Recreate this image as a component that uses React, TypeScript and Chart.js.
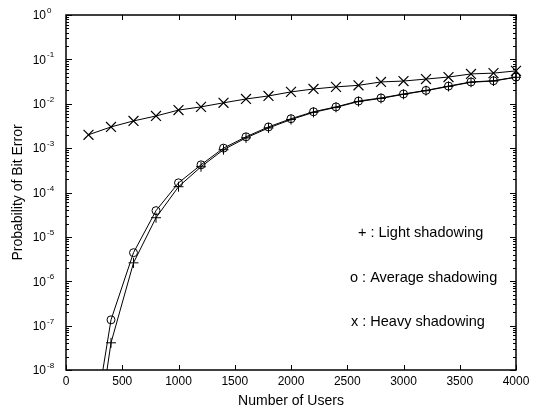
import React, { useEffect, useRef } from 'react';
import { Chart, registerables } from 'chart.js';

Chart.register(...registerables);

const users = [200, 400, 600, 800, 1000, 1200, 1400, 1600, 1800, 2000, 2200, 2400, 2600, 2800, 3000, 3200, 3400, 3600, 3800, 4000];
const lightShadowing = [1.5e-11, 4.1e-8, 2.6e-6, 2.7e-5, 1.35e-4, 3.8e-4, 9.2e-4, 1.7e-3, 2.85e-3, 4.4e-3, 6.4e-3, 8.3e-3, 1.12e-2, 1.32e-2, 1.63e-2, 1.97e-2, 2.45e-2, 3.05e-2, 3.25e-2, 3.95e-2];
const averageShadowing = [1e-10, 1.35e-7, 4.4e-6, 3.9e-5, 1.65e-4, 4.2e-4, 1.0e-3, 1.8e-3, 3.0e-3, 4.6e-3, 6.6e-3, 8.5e-3, 1.15e-2, 1.35e-2, 1.66e-2, 2.0e-2, 2.5e-2, 3.1e-2, 3.3e-2, 4.0e-2];
const heavyShadowing = [2.0e-3, 3.0e-3, 4.1e-3, 5.3e-3, 7.2e-3, 8.5e-3, 1.05e-2, 1.28e-2, 1.5e-2, 1.85e-2, 2.15e-2, 2.4e-2, 2.6e-2, 3.1e-2, 3.25e-2, 3.6e-2, 4.0e-2, 4.7e-2, 4.9e-2, 5.5e-2];
const xTicks = [0, 500, 1000, 1500, 2000, 2500, 3000, 3500, 4000];
const yDecades = [0, -1, -2, -3, -4, -5, -6, -7, -8];
const legendLabels = ['+ : Light shadowing', 'o : Average shadowing', 'x : Heavy shadowing'];

const FAMILY = '"Liberation Sans", Arial, Helvetica, sans-serif';

const framePlugin = {
  id: 'frame',
  afterDatasetsDraw(chart: any) {
    const { ctx, chartArea, scales } = chart;
    const { left, right, top, bottom } = chartArea;
    const x = scales.x;
    const y = scales.y;
    ctx.save();
    ctx.strokeStyle = '#000';
    ctx.lineWidth = 1.5;
    ctx.strokeRect(left, top, right - left, bottom - top);
    ctx.lineWidth = 1;
    const seg = (x1: number, y1: number, x2: number, y2: number) => {
      ctx.beginPath();
      ctx.moveTo(x1, y1);
      ctx.lineTo(x2, y2);
      ctx.stroke();
    };
    xTicks.forEach((v) => {
      const px = Math.round(x.getPixelForValue(v)) + 0.5;
      seg(px, bottom, px, bottom - 5);
      seg(px, top, px, top + 5);
    });
    yDecades.forEach((e) => {
      const py = Math.round(y.getPixelForValue(Math.pow(10, e))) + 0.5;
      seg(left, py, left + 6, py);
      seg(right, py, right - 6, py);
      if (e < 0) {
        for (let m = 2; m <= 9; m++) {
          const pm = Math.round(y.getPixelForValue(m * Math.pow(10, e))) + 0.5;
          seg(left, pm, left + 3, pm);
          seg(right, pm, right - 3, pm);
        }
      }
    });
    // y tick labels with superscript exponents
    ctx.fillStyle = '#000';
    yDecades.forEach((e) => {
      const py = y.getPixelForValue(Math.pow(10, e));
      ctx.font = '12px ' + FAMILY;
      ctx.textAlign = 'right';
      ctx.textBaseline = 'middle';
      ctx.fillText('10', left - 20, py + 1);
      ctx.font = '8px ' + FAMILY;
      ctx.textAlign = 'left';
      ctx.textBaseline = 'alphabetic';
      ctx.fillText(e === 0 ? '0' : '-' + String(-e), left - 19, py - 2);
    });
    // legend texts
    ctx.font = '14.5px ' + FAMILY;
    ctx.textAlign = 'left';
    ctx.textBaseline = 'middle';
    const lx = [left + 292, left + 284, left + 285];
    const ly = [top + 218, top + 263, top + 307];
    legendLabels.forEach((t, i) => ctx.fillText(t, lx[i], ly[i]));
    ctx.restore();
  },
};

export default function App() {
  const ref = useRef<HTMLCanvasElement>(null);
  useEffect(() => {
    const clip = { left: 8, right: 8, top: 8, bottom: 0 };
    const mk = (arr: number[]) => users.map((u, i) => ({ x: u, y: arr[i] }));
    const chart = new Chart(ref.current as HTMLCanvasElement, {
      type: 'line',
      data: {
        datasets: [
          {
            label: 'Light shadowing',
            data: mk(lightShadowing),
            borderColor: '#000',
            borderWidth: 1,
            pointStyle: 'cross',
            pointRadius: 5,
            pointBorderWidth: 1,
            pointBorderColor: '#000',
            pointBackgroundColor: 'transparent',
            clip,
          } as any,
          {
            label: 'Average shadowing',
            data: mk(averageShadowing),
            borderColor: '#000',
            borderWidth: 1,
            pointStyle: 'circle',
            pointRadius: 4,
            pointBorderWidth: 1,
            pointBorderColor: '#000',
            pointBackgroundColor: 'transparent',
            clip,
          } as any,
          {
            label: 'Heavy shadowing',
            data: mk(heavyShadowing),
            borderColor: '#000',
            borderWidth: 1,
            pointStyle: 'crossRot',
            pointRadius: 7,
            pointBorderWidth: 1.2,
            pointBorderColor: '#000',
            pointBackgroundColor: 'transparent',
            clip,
          } as any,
        ],
      },
      options: {
        responsive: false,
        animation: false,
        devicePixelRatio: 1,
        events: [],
        layout: { padding: { top: 15, right: 25, left: 0, bottom: 0 } },
        plugins: { legend: { display: false }, tooltip: { enabled: false } },
        scales: {
          x: {
            type: 'linear',
            min: 0,
            max: 4000,
            afterBuildTicks: (s: any) => {
              s.ticks = xTicks.map((v) => ({ value: v }));
            },
            afterFit: (s: any) => {
              s.height = 40;
            },
            grid: { display: false, drawTicks: false },
            border: { display: false },
            ticks: {
              padding: 4,
              color: '#000',
              font: { size: 12, family: FAMILY },
              maxRotation: 0,
              autoSkip: false,
              callback: (v: any) => String(v),
            },
            title: { display: true, text: 'Number of Users', color: '#000', font: { size: 14, family: FAMILY, lineHeight: 1.2 }, padding: { top: 0, bottom: 0 } },
          },
          y: {
            type: 'logarithmic',
            min: 1e-8,
            max: 1,
            afterBuildTicks: (s: any) => {
              s.ticks = yDecades.map((e) => ({ value: Math.pow(10, e) }));
            },
            afterFit: (s: any) => {
              s.width = 66;
            },
            grid: { display: false, drawTicks: false },
            border: { display: false },
            ticks: { display: false },
            title: { display: true, text: 'Probability of Bit Error', color: '#000', font: { size: 14, family: FAMILY, lineHeight: 1.2 }, padding: { top: 10, bottom: 0 } },
          },
        } as any,
      },
      plugins: [framePlugin],
    });
    return () => chart.destroy();
  }, []);
  return (
    <div style={{ position: 'absolute', left: 0, top: 0, width: 541, height: 410, background: '#fff' }}>
      <canvas ref={ref} width={541} height={410} />
    </div>
  );
}
